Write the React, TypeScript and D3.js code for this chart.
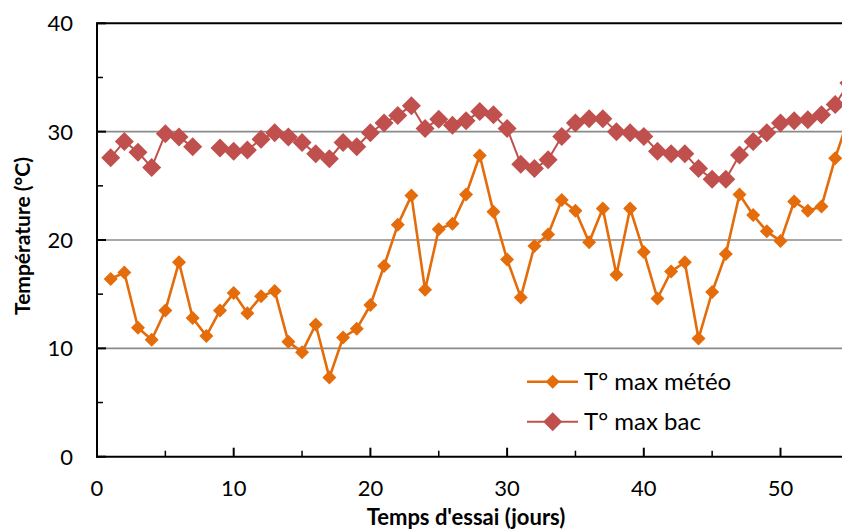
import React, { useEffect, useRef } from "react";
import * as d3 from "d3";

const days = [1,2,3,4,5,6,7,8,9,10,11,12,13,14,15,16,17,18,19,20,21,22,23,24,25,26,27,28,29,30,31,32,33,34,35,36,37,38,39,40,41,42,43,44,45,46,47,48,49,50,51,52,53,54,55];
const meteo = [16.4,17.0,11.9,10.8,13.5,17.95,12.8,11.15,13.5,15.1,13.25,14.8,15.3,10.6,9.65,12.2,7.3,11.0,11.8,14.0,17.6,21.4,24.1,15.4,21.0,21.5,24.2,27.8,22.6,18.2,14.7,19.45,20.5,23.7,22.7,19.8,22.9,16.8,22.9,18.9,14.6,17.1,17.95,10.9,15.2,18.7,24.2,22.3,20.8,19.9,23.55,22.7,23.1,27.55,31.3];
const bac: (number | null)[] = [27.6,29.1,28.1,26.7,29.8,29.5,28.6,null,28.5,28.2,28.3,29.3,29.9,29.5,29.0,27.95,27.5,29.0,28.6,29.9,30.8,31.5,32.4,30.3,31.15,30.6,31.0,31.85,31.55,30.3,27.0,26.6,27.4,29.55,30.8,31.2,31.2,30.0,29.9,29.55,28.2,27.95,27.95,26.6,25.6,25.6,27.85,29.1,29.9,30.8,31.0,31.1,31.55,32.5,34.5];
const seriesNames = ["T° max météo", "T° max bac"];
const seriesColors = ["#E46C0A", "#C0504D"];
const xTicks = [0, 10, 20, 30, 40, 50];
const xMinorTicks = [5, 15, 25, 35, 45, 55];
const yTicks = [0, 10, 20, 30, 40];
const yMinorTicks = [5, 15, 25, 35];
const xTitle = "Temps d'essai (jours)";
const yTitle = "Température (°C)";

const W = 842, H = 529;
const FONT = "Lato, 'Open Sans', sans-serif";

export default function App() {
  const ref = useRef<SVGSVGElement | null>(null);
  useEffect(() => {
    const svg = d3.select(ref.current);
    svg.selectAll("*").remove();
    const x = d3.scaleLinear().domain([0, 50]).range([97, 780.5]);
    const y = d3.scaleLinear().domain([0, 40]).range([456.7, 23.3]);

    // gridlines
    svg.append("g").selectAll("line").data([10, 20, 30]).join("line")
      .attr("x1", x(0)).attr("x2", W).attr("y1", d => y(d)).attr("y2", d => y(d))
      .attr("stroke", "#8a8a8a").attr("stroke-width", 1.6);
    svg.append("line").attr("x1", x(0)).attr("x2", W).attr("y1", y(40)).attr("y2", y(40))
      .attr("stroke", "#000").attr("stroke-width", 2);

    // axes lines
    svg.append("line").attr("x1", x(0)).attr("x2", x(0)).attr("y1", y(40) - 1).attr("y2", y(0) + 1)
      .attr("stroke", "#000").attr("stroke-width", 2);
    svg.append("line").attr("x1", x(0) - 1).attr("x2", W).attr("y1", y(0)).attr("y2", y(0))
      .attr("stroke", "#000").attr("stroke-width", 2);

    // y ticks
    svg.append("g").selectAll("line").data(yTicks).join("line")
      .attr("x1", x(0)).attr("x2", x(0) + 9).attr("y1", d => y(d)).attr("y2", d => y(d))
      .attr("stroke", "#000").attr("stroke-width", 2);
    svg.append("g").selectAll("line").data(yMinorTicks).join("line")
      .attr("x1", x(0)).attr("x2", x(0) + 6).attr("y1", d => y(d)).attr("y2", d => y(d))
      .attr("stroke", "#000").attr("stroke-width", 1.5);
    // x ticks
    svg.append("g").selectAll("line").data(xTicks).join("line")
      .attr("x1", d => x(d)).attr("x2", d => x(d)).attr("y1", y(0)).attr("y2", y(0) - 9)
      .attr("stroke", "#000").attr("stroke-width", 2);
    svg.append("g").selectAll("line").data(xMinorTicks).join("line")
      .attr("x1", d => x(d)).attr("x2", d => x(d)).attr("y1", y(0)).attr("y2", y(0) - 6)
      .attr("stroke", "#000").attr("stroke-width", 1.5);

    // tick labels
    svg.append("g").selectAll("text").data(yTicks).join("text")
      .attr("x", 73).attr("y", d => y(d)).attr("dy", "0.36em")
      .attr("text-anchor", "end").attr("font-family", FONT).attr("font-size", 22)
      .attr("fill", "#000").text(d => String(d));
    svg.append("g").selectAll("text").data(xTicks).join("text")
      .attr("x", d => x(d)).attr("y", 488).attr("dy", "0.36em")
      .attr("text-anchor", "middle").attr("font-family", FONT).attr("font-size", 22)
      .attr("fill", "#000").text(d => String(d));

    // titles
    svg.append("text").attr("x", 466).attr("y", 525).attr("text-anchor", "middle")
      .attr("font-family", FONT).attr("font-weight", "bold").attr("font-size", 22)
      .text(xTitle);
    svg.append("text").attr("transform", "translate(30,236) rotate(-90)").attr("text-anchor", "middle")
      .attr("font-family", FONT).attr("font-weight", "bold").attr("font-size", 21)
      .text(yTitle);

    const diamond = (s: number) => `M0,${-s}L${s},0L0,${s}L${-s},0Z`;

    const drawSeries = (vals: (number | null)[], color: string, lw: number, size: number) => {
      const pts = days.map((d, i) => ({ d, v: vals[i] }));
      const line = d3.line<{ d: number; v: number | null }>()
        .defined(p => p.v !== null)
        .x(p => x(p.d)).y(p => y(p.v as number));
      svg.append("path").attr("d", line(pts) || "").attr("fill", "none")
        .attr("stroke", color).attr("stroke-width", lw).attr("stroke-linejoin", "round");
      svg.append("g").selectAll("path").data(pts.filter(p => p.v !== null)).join("path")
        .attr("d", diamond(size))
        .attr("transform", p => `translate(${x(p.d)},${y(p.v as number)})`)
        .attr("fill", color);
    };
    drawSeries(meteo, seriesColors[0], 2.6, 7);
    drawSeries(bac, seriesColors[1], 2, 9.5);

    // legend
    const legY = [381.7, 421.7];
    const legSize = [7, 9.5];
    const legLw = [2.6, 2];
    seriesNames.forEach((name, i) => {
      const g = svg.append("g");
      g.append("line").attr("x1", 527).attr("x2", 578).attr("y1", legY[i]).attr("y2", legY[i])
        .attr("stroke", seriesColors[i]).attr("stroke-width", legLw[i]);
      g.append("path").attr("d", diamond(legSize[i]))
        .attr("transform", `translate(552.7,${legY[i]})`).attr("fill", seriesColors[i]);
      g.append("text").attr("x", 584).attr("y", legY[i]).attr("dy", "0.36em")
        .attr("font-family", FONT).attr("font-size", 24).attr("fill", "#000").text(name);
    });
  }, []);

  return (
    <div style={{ position: "fixed", left: 0, top: 0, width: W, height: H, background: "#fff" }}>
      <svg ref={ref} width={W} height={H} style={{ display: "block" }} />
    </div>
  );
}
